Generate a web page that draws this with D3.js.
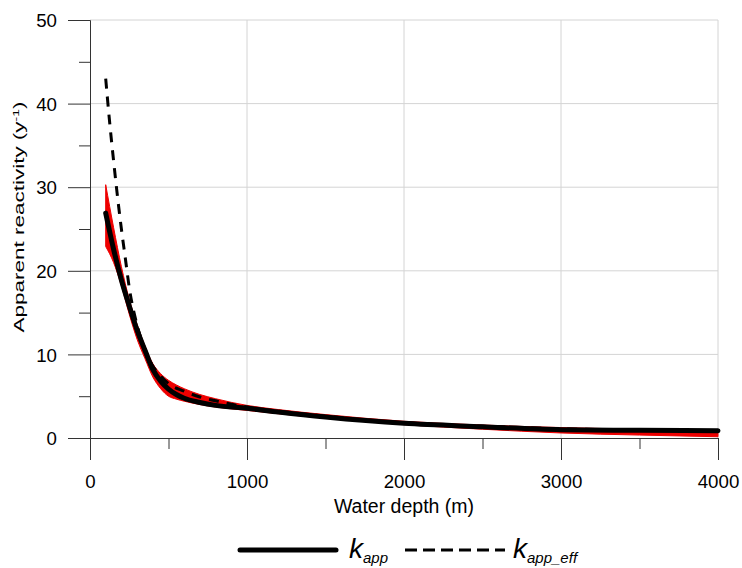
<!DOCTYPE html>
<html>
<head>
<meta charset="utf-8">
<script src="https://cdn.jsdelivr.net/npm/d3@7"></script>
<style>
  body { margin: 0; background: #fff; }
  text { font-family: "Liberation Sans", Arial, sans-serif; fill: #000; }
</style>
</head>
<body>
<div id="chart"></div>
<script>
// depths (m)
const depths = [100, 150, 200, 250, 300, 350, 400, 450, 500, 550, 600, 700, 800, 1000, 1200, 1500, 2000, 2500, 3000, 3500, 4000];
// k_app (solid black)
const kApp = [26.9, 22.6, 18.9, 15.8, 12.9, 10.5, 8.2, 6.8, 5.85, 5.2, 4.75, 4.25, 3.9, 3.55, 3.1, 2.5, 1.75, 1.35, 1.0, 0.92, 0.88];
// red band around k_app
const bandHi = [30.3, 25.2, 20.5, 16.6, 13.6, 11.0, 8.9, 7.7, 6.9, 6.35, 5.9, 5.2, 4.7, 3.9, 3.4, 2.8, 2.0, 1.55, 1.25, 1.05, 0.9];
const bandLo = [22.9, 21.0, 18.2, 14.8, 11.8, 9.5, 7.3, 5.9, 5.0, 4.65, 4.4, 4.0, 3.7, 3.3, 2.9, 2.35, 1.6, 1.05, 0.6, 0.35, 0.15];
// k_app_eff (dashed)
const effDepths = [100, 125, 150, 175, 200, 225, 250, 300, 350, 400, 450, 500, 600, 700, 800, 1000, 1200, 1500, 2000, 2500, 3000, 3500, 4000];
const kAppEff = [43.0, 37.8, 33.2, 28.9, 25.0, 21.5, 18.0, 13.5, 10.6, 8.6, 7.4, 6.5, 5.6, 4.9, 4.45, 3.7, 3.2, 2.6, 1.8, 1.4, 1.1, 0.95, 0.9];

const xTicks = [0, 1000, 2000, 3000, 4000];
const xMinor = [500, 1500, 2500, 3500];
const yTicks = [0, 10, 20, 30, 40, 50];
const yMinor = [5, 15, 25, 35, 45];

const W = 742, H = 568;
const x = d3.scaleLinear().domain([0, 4000]).range([90, 718]);
const y = d3.scaleLinear().domain([0, 50]).range([438, 20]);

const svg = d3.select("#chart").append("svg")
  .attr("width", W)
  .attr("height", H);

// grid
svg.append("g").selectAll("line")
  .data(xTicks.filter(d => d > 0))
  .join("line")
    .attr("x1", d => x(d)).attr("x2", d => x(d))
    .attr("y1", y(0)).attr("y2", y(50))
    .attr("stroke", "#d4d4d4").attr("stroke-width", 1);
svg.append("g").selectAll("line")
  .data(yTicks.filter(d => d > 0))
  .join("line")
    .attr("x1", x(0)).attr("x2", x(4000))
    .attr("y1", d => y(d)).attr("y2", d => y(d))
    .attr("stroke", "#d4d4d4").attr("stroke-width", 1);

// axes
const xAxisG = svg.append("g").attr("transform", `translate(0,${y(0)})`)
  .call(d3.axisBottom(x).tickValues(xTicks).tickSize(22).tickSizeOuter(0).tickFormat(d3.format("d")));
svg.append("g").attr("transform", `translate(0,${y(0)})`)
  .call(d3.axisBottom(x).tickValues(xMinor).tickSize(11).tickSizeOuter(0).tickFormat(""));
const yAxisG = svg.append("g").attr("transform", `translate(${x(0)},0)`)
  .call(d3.axisLeft(y).tickValues(yTicks).tickSize(22).tickSizeOuter(0));
svg.append("g").attr("transform", `translate(${x(0)},0)`)
  .call(d3.axisLeft(y).tickValues(yMinor).tickSize(11).tickSizeOuter(0).tickFormat(""));

svg.selectAll(".domain").attr("stroke", "#333");
svg.selectAll(".tick line").attr("stroke", "#333");
xAxisG.selectAll("text")
  .attr("y", 50).attr("dy", 0)
  .style("font-size", "18.7px").style("font-family", "Liberation Sans, Arial, sans-serif");
yAxisG.selectAll("text")
  .attr("x", -33).attr("dy", "0.36em")
  .style("font-size", "18.7px").style("font-family", "Liberation Sans, Arial, sans-serif");

// red band
const band = depths.map((d, i) => ({ d, lo: bandLo[i], hi: bandHi[i] }));
svg.append("path")
  .datum(band)
  .attr("fill", "#ee0000")
  .attr("stroke", "#ee0000")
  .attr("stroke-width", 1)
  .attr("d", d3.area()
    .x(p => x(p.d))
    .y0(p => y(p.lo))
    .y1(p => y(p.hi))
    .curve(d3.curveMonotoneX));

// k_app solid
svg.append("path")
  .datum(depths.map((d, i) => [d, kApp[i]]))
  .attr("fill", "none")
  .attr("stroke", "#000")
  .attr("stroke-width", 5)
  .attr("stroke-linecap", "round")
  .attr("d", d3.line().x(p => x(p[0])).y(p => y(p[1])).curve(d3.curveMonotoneX));

// k_app_eff dashed
svg.append("path")
  .datum(effDepths.map((d, i) => [d, kAppEff[i]]))
  .attr("fill", "none")
  .attr("stroke", "#000")
  .attr("stroke-width", 3)
  .attr("stroke-dasharray", "10,8")
  .attr("d", d3.line().x(p => x(p[0])).y(p => y(p[1])).curve(d3.curveMonotoneX));

// axis titles
svg.append("text")
  .attr("x", 404).attr("y", 513)
  .attr("text-anchor", "middle")
  .style("font-size", "19.5px")
  .text("Water depth (m)");

const yl = svg.append("text")
  .attr("transform", "translate(24,217) rotate(-90) scale(1,0.68)")
  .attr("text-anchor", "middle")
  .style("font-size", "22.5px");
yl.append("tspan").text("Apparent reactivity (y");
yl.append("tspan").attr("dy", -8).style("font-size", "14px").text("-1");
yl.append("tspan").attr("dy", 8).text(")");

// legend
const leg = svg.append("g");
leg.append("line")
  .attr("x1", 240).attr("x2", 336).attr("y1", 550).attr("y2", 550)
  .attr("stroke", "#000").attr("stroke-width", 5).attr("stroke-linecap", "round");
const t1 = leg.append("text").attr("x", 349).attr("y", 558).style("font-style", "italic");
t1.append("tspan").style("font-size", "28px").text("k");
t1.append("tspan").attr("dy", 5).style("font-size", "15px").text("app");

leg.append("line")
  .attr("x1", 405).attr("x2", 505).attr("y1", 550).attr("y2", 550)
  .attr("stroke", "#000").attr("stroke-width", 3).attr("stroke-dasharray", "12,6");
const t2 = leg.append("text").attr("x", 513).attr("y", 558).style("font-style", "italic");
t2.append("tspan").style("font-size", "28px").text("k");
t2.append("tspan").attr("dy", 5).style("font-size", "15px").text("app_eff");
</script>
</body>
</html>
